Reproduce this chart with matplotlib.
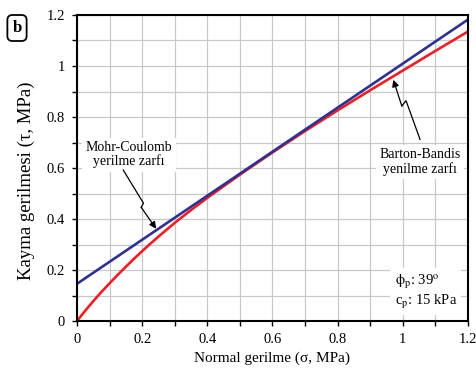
import matplotlib
matplotlib.use("Agg")
import matplotlib.pyplot as plt
from matplotlib.ticker import MultipleLocator, FuncFormatter

# ---- data ----
sigma_mc = [0.0, 1.2]
tau_mc = [0.146, 1.182]

sigma_bb = [0.0, 0.025, 0.05, 0.075, 0.1, 0.125, 0.15, 0.175, 0.2, 0.225, 0.25, 0.3,
            0.35, 0.4, 0.5, 0.6, 0.7, 0.8, 0.9, 1.0, 1.1, 1.2]
tau_bb = [0.0, 0.040, 0.078, 0.114, 0.148, 0.181, 0.213, 0.244, 0.274, 0.303, 0.331,
          0.385, 0.435, 0.483, 0.574, 0.661, 0.745, 0.826, 0.905, 0.982, 1.059, 1.135]

x_ticks = [0, 0.2, 0.4, 0.6, 0.8, 1.0, 1.2]
y_ticks = [0, 0.2, 0.4, 0.6, 0.8, 1.0, 1.2]

plt.rcParams['font.family'] = ['Liberation Serif', 'DejaVu Serif']
plt.rcParams['mathtext.fontset'] = 'stix'

fig = plt.figure(figsize=(4.77, 3.72), dpi=100)
ax = fig.add_axes([0.1614, 0.137, 0.8196, 0.8227])

BLUE = '#2e3192'
RED = '#f01e23'

ax.plot(sigma_bb, tau_bb, color=RED, lw=1.9, zorder=3, solid_capstyle='butt',
        solid_joinstyle='round')
ax.plot(sigma_mc, tau_mc, color=BLUE, lw=1.9, zorder=4, solid_capstyle='butt')

ax.set_xlim(0, 1.2)
ax.set_ylim(0, 1.2)
ax.set_xticks(x_ticks)
ax.set_yticks(y_ticks)
ax.xaxis.set_minor_locator(MultipleLocator(0.1))
ax.yaxis.set_minor_locator(MultipleLocator(0.1))
fmt = FuncFormatter(lambda v, p: f"{v:g}")
ax.xaxis.set_major_formatter(fmt)
ax.yaxis.set_major_formatter(fmt)
ax.grid(True, which='both', color='#c8c8c8', lw=0.9, zorder=0)
ax.set_axisbelow(True)
ax.tick_params(which='both', direction='out', length=3.5, width=1.0, labelsize=10.5, pad=5)
for s in ax.spines.values():
    s.set_linewidth(1.5)
    s.set_zorder(5)

ax.set_xlabel('Normal gerilme (σ, MPa)', fontsize=11, labelpad=4)
ax.set_ylabel('Kayma gerilmesi (τ, MPa)', fontsize=13.5)
ax.yaxis.set_label_coords(-0.108, 0.46)

# annotations
bbox = dict(facecolor='white', edgecolor='none', pad=2.5)
ax.text(0.160, 0.652, 'Mohr-Coulomb\nyerilme zarfı', ha='center', va='center',
        fontsize=10, linespacing=1.05, bbox=bbox, zorder=6)
ax.plot([0.142, 0.204, 0.197], [0.592, 0.462, 0.446], color='black', lw=0.9, zorder=6)
ax.annotate('', xy=(0.243, 0.362), xytext=(0.197, 0.446),
            arrowprops=dict(arrowstyle='-|>', color='black', lw=0.9,
                            mutation_scale=10, shrinkA=0, shrinkB=0), zorder=6)

ax.text(1.052, 0.624, 'Barton-Bandis\nyenilme zarfı', ha='center', va='center',
        fontsize=10, linespacing=1.05, bbox=bbox, zorder=6)
ax.plot([1.053, 1.010, 0.997], [0.712, 0.864, 0.843], color='black', lw=0.9, zorder=6)
ax.annotate('', xy=(0.971, 0.946), xytext=(0.997, 0.843),
            arrowprops=dict(arrowstyle='-|>', color='black', lw=0.9,
                            mutation_scale=10, shrinkA=0, shrinkB=0), zorder=6)

ax.text(0.975, 0.116, '$\\mathrm{ϕ}_\\mathrm{p}$: 39$^\\mathrm{o}$\nc$_\\mathrm{p}$: 15 kPa',
        ha='left', va='center', fontsize=10.5, linespacing=1.2,
        bbox=dict(facecolor='white', edgecolor='none', pad=3), zorder=6)

# panel label
fig.text(17 / 477, 1 - 28 / 372, 'b', ha='center', va='center', fontsize=12,
         fontweight='bold',
         bbox=dict(boxstyle='round,pad=0.3,rounding_size=0.3', facecolor='white',
                   edgecolor='black', lw=1.3))

fig.savefig('out.png', dpi=100)
